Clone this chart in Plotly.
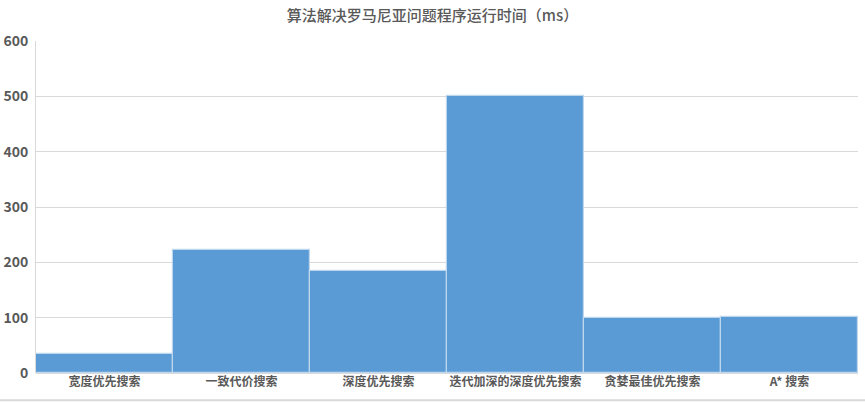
import plotly.graph_objects as go

categories = ["宽度优先搜索", "一致代价搜索", "深度优先搜索", "迭代加深的深度优先搜索", "贪婪最佳优先搜索", "A* 搜索"]
values = [35, 223, 185, 500, 100, 102]
y_ticks = [0, 100, 200, 300, 400, 500, 600]

FONT = "Noto Sans CJK SC"
GRAY = "#595959"

W, H = 865, 402

fig = go.Figure(go.Bar(
    x=categories, y=values,
    marker=dict(color="#5B9BD5", line=dict(color="#BDD7EE", width=1.2)),
))

fig.update_layout(
    width=W, height=H,
    margin=dict(l=36, r=7, t=41, b=29),
    paper_bgcolor="white", plot_bgcolor="white",
    bargap=0,
    showlegend=False,
    title=dict(text="算法解决罗马尼亚问题程序运行时间（ms）", x=0.5, xanchor="center",
               y=0.96, yanchor="middle",
               font=dict(family=FONT, size=15, color=GRAY, weight=500)),
    font=dict(family=FONT, color=GRAY),
)
fig.update_xaxes(
    showgrid=False, ticks="", showline=False, automargin=False,
    tickfont=dict(family=FONT, size=12, color=GRAY, weight="bold"),
)
fig.update_yaxes(
    range=[0, 600], tickvals=y_ticks, showgrid=True, gridcolor="#D9D9D9", gridwidth=1,
    zeroline=True, zerolinecolor="#D9D9D9", showline=True, linecolor="#D9D9D9",
    automargin=False,
    ticks="", tickfont=dict(family=FONT, size=14, color=GRAY, weight="bold"),
    ticklabelstandoff=4,
)
fig.add_shape(type="line", xref="paper", yref="paper", x0=-0.1, x1=1.1,
              y0=-0.082, y1=-0.082,
              line=dict(color="#D9D9D9", width=2))

fig.write_html("out.html", config={"displayModeBar": False},
               post_script="document.body.style.margin='0';")
